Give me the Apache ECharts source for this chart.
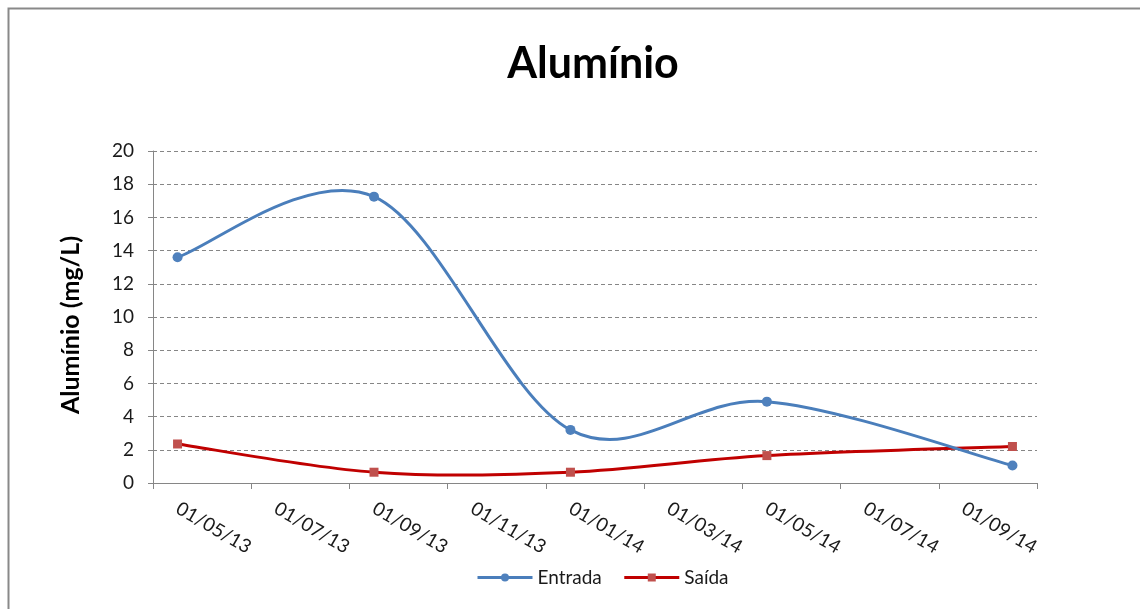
<!DOCTYPE html>
<html>
<head>
<meta charset="utf-8">
<style>
  html, body { margin: 0; padding: 0; background: #fff; }
  #chart { width: 1140px; height: 609px; }
</style>
<script src="https://cdn.jsdelivr.net/npm/echarts@6/dist/echarts.min.js"></script>
</head>
<body>
<div id="chart"></div>
<script>
// Monthly bins from May 2013 to October 2014; only sampled months carry values
const months = ['01/05/13','01/06/13','01/07/13','01/08/13','01/09/13','01/10/13','01/11/13','01/12/13',
                '01/01/14','01/02/14','01/03/14','01/04/14','01/05/14','01/06/14','01/07/14','01/08/14',
                '01/09/14','01/10/14'];
const entrada = [13.6, null, null, null, 17.25, null, null, null, 3.2, null, null, null, 4.9, null, null, null, null, 1.05];
const saida   = [2.35, null, null, null, 0.65, null, null, null, 0.65, null, null, null, 1.65, null, null, null, null, 2.2];
const yTicks = { min: 0, max: 20, step: 2 };

const FONT = 'Lato';
const AXIS_GRAY = '#868686';
const TEXT = '#1a1a1a';
const BLUE_LINE = '#4A7EBB', BLUE_MARK = '#4F81BD';
const RED_LINE = '#C00000', RED_MARK = '#C0504D';

// Smoothed curve through the sampled points (Catmull-Rom style tangents,
// converted to cubic Bezier segments in pixel space).
function curveSeries(values, color) {
  return {
    type: 'custom',
    name: '_curve',
    data: [0],
    silent: true,
    z: 2,
    renderItem: function (params, api) {
      const pts = [];
      values.forEach(function (v, i) {
        if (v !== null && v !== undefined) pts.push(api.coord([i, v]));
      });
      const children = [];
      for (let i = 0; i < pts.length - 1; i++) {
        const p0 = pts[i - 1] || pts[i];
        const p1 = pts[i];
        const p2 = pts[i + 1];
        const p3 = pts[i + 2] || pts[i + 1];
        children.push({
          type: 'bezierCurve',
          shape: {
            x1: p1[0], y1: p1[1], x2: p2[0], y2: p2[1],
            cpx1: p1[0] + (p2[0] - p0[0]) / 6, cpy1: p1[1] + (p2[1] - p0[1]) / 6,
            cpx2: p2[0] - (p3[0] - p1[0]) / 6, cpy2: p2[1] - (p3[1] - p1[1]) / 6
          },
          style: { stroke: color, lineWidth: 3, fill: null, lineCap: 'round' }
        });
      }
      return { type: 'group', children: children };
    }
  };
}

const chart = echarts.init(document.getElementById('chart'), null, { renderer: 'canvas' });

chart.setOption({
  backgroundColor: '#ffffff',
  animation: false,
  graphic: [{
    type: 'rect',
    left: 6, top: 6,
    shape: { width: 1150, height: 620 },
    style: { fill: 'none', stroke: '#898989', lineWidth: 2 },
    silent: true
  }],
  title: {
    text: 'Alumínio',
    left: 588, top: 38,
    textAlign: 'center',
    textStyle: { fontFamily: FONT, fontWeight: 'bold', fontSize: 43, color: '#000' }
  },
  legend: {
    left: 476, top: 568,
    padding: 0,
    itemWidth: 55, itemHeight: 10, itemGap: 21,
    textStyle: { fontFamily: FONT, fontSize: 19, color: TEXT },
    lineStyle: { opacity: 1, width: 3 },
    data: [
      { name: 'Entrada', lineStyle: { opacity: 1, width: 3, color: BLUE_LINE } },
      { name: 'Saída', lineStyle: { opacity: 1, width: 3, color: RED_LINE } }
    ]
  },
  grid: { left: 153, right: 103, top: 151, bottom: 126, containLabel: false },
  xAxis: {
    type: 'category',
    data: months,
    boundaryGap: true,
    axisLine: { lineStyle: { color: AXIS_GRAY, width: 1 } },
    axisTick: { show: true, interval: 1, length: 6, lineStyle: { color: AXIS_GRAY } },
    axisLabel: {
      interval: 1, rotate: -30, margin: 24,
      fontFamily: FONT, fontSize: 19, color: TEXT
    },
    splitLine: { show: false }
  },
  yAxis: {
    type: 'value',
    min: yTicks.min, max: yTicks.max, interval: yTicks.step,
    name: 'Alumínio (mg/L)',
    nameLocation: 'middle',
    nameGap: 70,
    nameTextStyle: {
      fontFamily: FONT, fontWeight: 'bold', fontSize: 25, color: '#000',
      padding: [0, 16, 0, 0]
    },
    axisLine: { show: true, lineStyle: { color: AXIS_GRAY, width: 1 } },
    axisTick: { show: true, length: 5, lineStyle: { color: AXIS_GRAY } },
    axisLabel: { margin: 19, fontFamily: FONT, fontSize: 19, color: TEXT },
    splitLine: { show: true, lineStyle: { color: AXIS_GRAY, type: [4, 3], width: 1 } }
  },
  series: [
    curveSeries(saida, RED_LINE),
    curveSeries(entrada, BLUE_LINE),
    {
      name: 'Entrada',
      type: 'line',
      data: entrada,
      connectNulls: true,
      symbol: 'circle',
      symbolSize: 10,
      lineStyle: { color: BLUE_LINE, width: 3, opacity: 0 },
      itemStyle: { color: BLUE_MARK },
      z: 4
    },
    {
      name: 'Saída',
      type: 'line',
      data: saida,
      connectNulls: true,
      symbol: 'rect',
      symbolSize: 9,
      lineStyle: { color: RED_LINE, width: 3, opacity: 0 },
      itemStyle: { color: RED_MARK },
      z: 4
    }
  ]
});
</script>
</body>
</html>
